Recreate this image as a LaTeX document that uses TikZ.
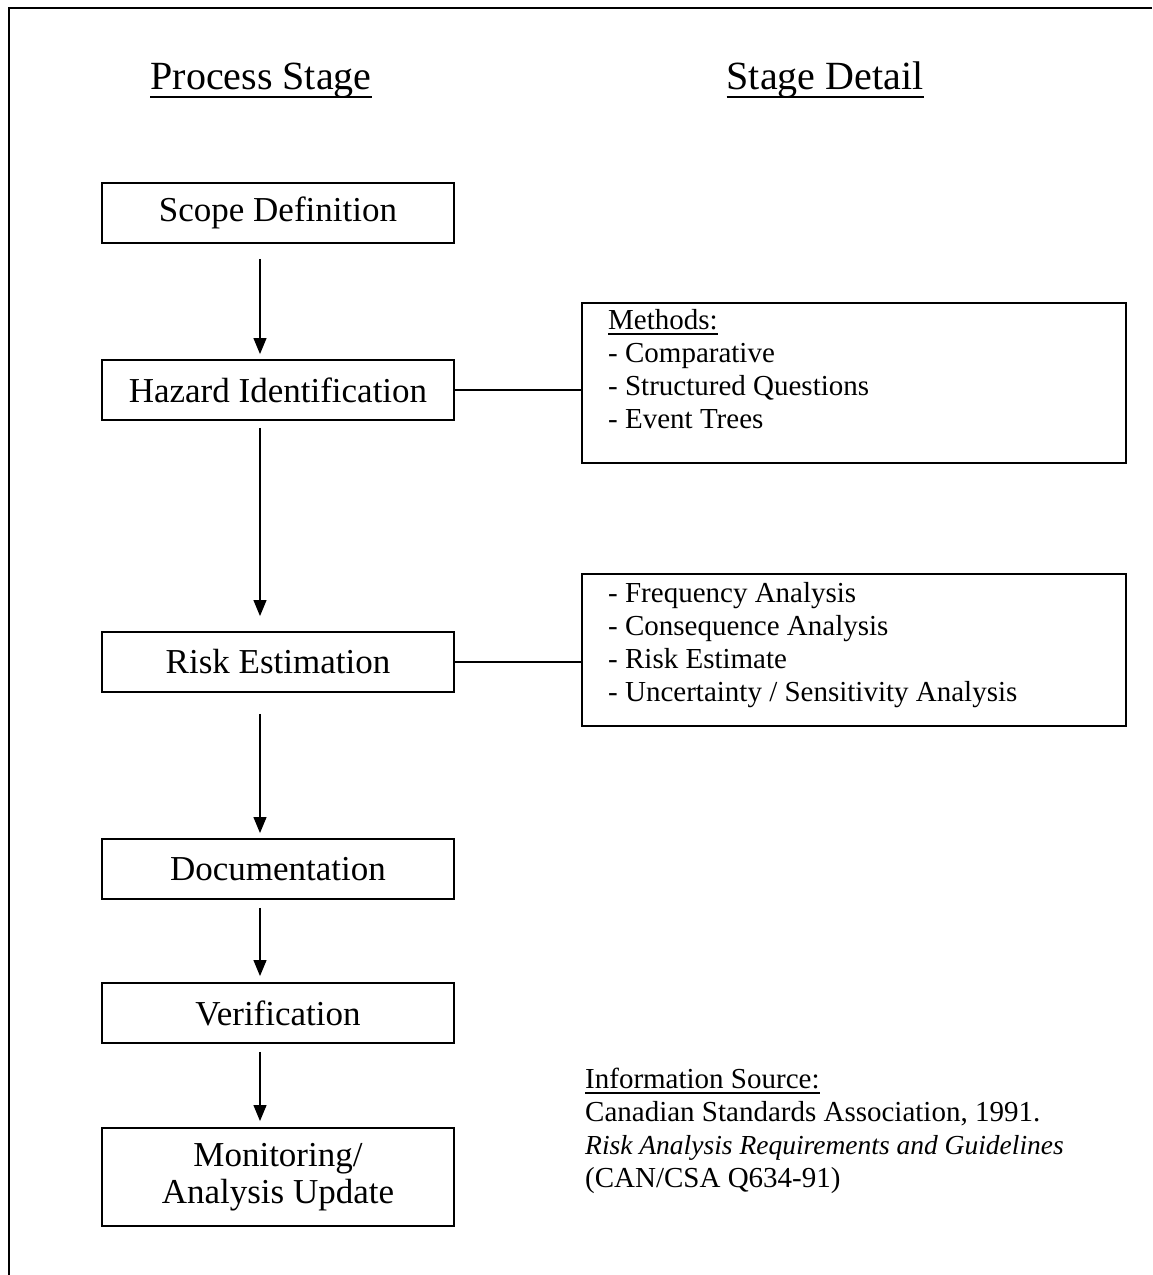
\documentclass[tikz,border=0pt]{standalone}
\usepackage{fontspec}
\setmainfont{Liberation Serif}
\usetikzlibrary{arrows.meta}
\begin{document}
\begin{tikzpicture}[x=1pt,y=-1pt,
  stage/.style={draw,line width=1.9pt,minimum width=352pt,minimum height=60pt,
    inner sep=0pt,align=center,font=\fontsize{35}{37}\selectfont},
  detail/.style={draw,line width=2pt,minimum width=544pt,inner sep=0pt},
  txt/.style={anchor=base west,inner sep=0pt,font=\fontsize{29}{33}\selectfont},
  head/.style={anchor=base,inner sep=0pt,font=\fontsize{40}{44}\selectfont},
  uline/.style={line width=2.6pt},
  flow/.style={line width=1.2pt,-{Triangle[length=16pt,width=13pt]}},
  link/.style={line width=2pt}]
\useasboundingbox (0,0) rectangle (1152,1275);
% frame
\draw[line width=2pt] (9,1275) -- (9,8) -- (1152,8);

% column headings
\node[head] (hl) at (261,89) {Process Stage};
\node[head] (hr) at (825,89) {Stage Detail};
\draw[uline] ([yshift=-8pt]hl.base west) -- ([yshift=-8pt]hl.base east);
\draw[uline] ([yshift=-8pt]hr.base west) -- ([yshift=-8pt]hr.base east);

% process stages
\node[stage] (scope)  at (278,213) {Scope Definition};
\node[stage] (hazard) at (278,390) {Hazard Identification};
\node[stage] (risk)   at (278,662) {Risk Estimation};
\node[stage] (doc)    at (278,869) {Documentation};
\node[stage] (verif)  at (278,1013) {Verification};
\node[stage,minimum height=98pt] (monit) at (278,1177) {Monitoring/\\Analysis Update};

% flow arrows
\draw[flow] ([xshift=-18pt,yshift=-15pt]scope.south) -- ([xshift=-18pt,yshift=5pt]hazard.north);
\draw[flow] ([xshift=-18pt,yshift=-7pt]hazard.south) -- ([xshift=-18pt,yshift=15pt]risk.north);
\draw[flow] ([xshift=-18pt,yshift=-21pt]risk.south) -- ([xshift=-18pt,yshift=5pt]doc.north);
\draw[flow] ([xshift=-18pt,yshift=-8pt]doc.south) -- ([xshift=-18pt,yshift=6pt]verif.north);
\draw[flow] ([xshift=-18pt,yshift=-8pt]verif.south) -- ([xshift=-18pt,yshift=6pt]monit.north);

% stage details
\node[detail,minimum height=160pt] (methods) at (854,383) {};
\node[detail,minimum height=152pt] (riskdet) at (854,650) {};
\draw[link] (hazard.east) -- (hazard.east -| methods.west);
\draw[link] (risk.east) -- (risk.east -| riskdet.west);

\node[txt] (m0) at (608,329) {Methods:};
\draw[line width=1.6pt] ([yshift=-5pt]m0.base west) -- ([yshift=-5pt]m0.base east);
\node[txt] (m1) at (608,362) {- Comparative};
\node[txt] (m2) at (608,395) {- Structured Questions};
\node[txt] (m3) at (608,428) {- Event Trees};

\node[txt] (r1) at (608,602) {- Frequency Analysis};
\node[txt] (r2) at (608,635) {- Consequence Analysis};
\node[txt] (r3) at (608,668) {- Risk Estimate};
\node[txt] (r4) at (608,701) {- Uncertainty / Sensitivity Analysis};

% source note
\node[txt] (s0) at (585,1088) {Information Source:};
\draw[line width=1.6pt] ([yshift=-5pt]s0.base west) -- ([yshift=-5pt]s0.base east);
\node[txt] (s1) at (585,1121) {Canadian Standards Association, 1991.};
\node[txt,font=\fontsize{27.5}{33}\selectfont\itshape] (s2) at (585,1154) {Risk Analysis Requirements and Guidelines};
\node[txt] (s3) at (585,1187) {(CAN/CSA Q634-91)};
\end{tikzpicture}
\end{document}
